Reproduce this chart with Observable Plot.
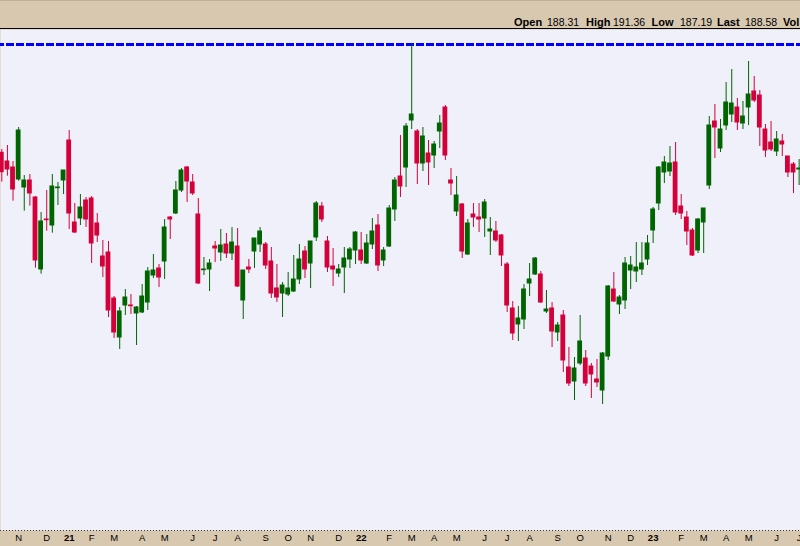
<!DOCTYPE html>
<html><head><meta charset="utf-8">
<script src="https://cdn.jsdelivr.net/npm/d3@7"></script>
<script src="https://cdn.jsdelivr.net/npm/@observablehq/plot@0.6"></script>
<style>
html,body{margin:0;padding:0;background:#d8c8b0;width:800px;height:546px;overflow:hidden;font-family:"Liberation Sans",Arial,sans-serif}
#hdr{display:block}
#chart svg{display:block}
</style></head><body>
<svg id="hdr" width="800" height="29"></svg>
<div id="chart"></div>
<script>
// Weekly bars: first bar week and end (exclusive)
const firstWeek = "2020-10-12";
const lastWeekEnd = "2023-07-04";

const open = [191.54,189.8,188.6,186.2,184.6,186,182.6,168.2,178.2,177,
184.46,186,194,177.6,178.4,182,182.4,177.4,170.8,171.6,
162.4,154.6,161,161,159.4,159.6,161.6,167,168.4,169.8,
178.6,179.4,184,188.6,185.6,179.2,168.06,168.2,172.8,171.6,
173.2,171.4,172.8,162,168.6,171.8,173.2,173.2,169.8,164.4,
163.4,163.2,163.8,166.2,171.8,169.4,174.6,180.8,173.8,168.8,
167.4,168.6,170.2,172,172,169.4,173.2,177,170,172.8,
180.2,186.8,188.6,198,195.8,189.4,191.4,191,195.8,200.6,
186,179.8,181.2,171.2,179.2,178.6,178.4,175.8,175.8,175,
169.2,160.4,157.2,158.2,165.4,167.2,167.2,159.8,160.4,155.6,
159,148.6,145.8,149.4,150.4,148.8,146.2,144,150.8,164.2,
161.2,162,168,167.8,168.2,170.2,176,181.4,187.6,187.8,
189.6,180.8,178.6,176,172,177.6,185,197.8,192.4,197,
199.2,200.6,197.4,200.6,203.8,203,196.2,193.6,191.8,193.8,
190.8,189.2,188.2];
const high = [192.2,193,189.8,196.6,187,187.2,182.8,179.6,184,187.2,
185.6,188,196,181.4,183.2,182.6,182.8,179.4,174,173.8,
162.8,160.6,164.2,163.2,160.8,165.2,168.6,171.2,169.2,178.2,
178.8,185.8,188.4,188.8,187.2,182.4,170.6,170.2,173.8,176.2,
175.4,176.6,176.4,168,170.2,174.4,176.6,173.6,172.6,169.2,
165.6,167.6,171,173.2,172.8,173.8,181.8,181.6,174.8,172.4,
169.2,172.6,172.6,175.8,175.6,175.2,178.4,179.2,172.6,181,
186.6,195,197.4,213.2,196.2,196.6,194,193.8,199,201,
188.4,186.8,181.4,178.2,181.4,181.4,182.2,178.6,177.8,175.2,
169.6,161.8,160.8,165.2,169.4,170.6,167.8,164,161.6,157.6,
160,152.6,150.6,159,152,149.4,150.2,151.6,165,167.6,
163,170.6,170.8,173.6,173.6,175,180.6,188.8,190.8,192.8,
193.6,183.2,179.8,176.4,178.4,180.4,198.8,201.2,198.2,205.6,
208.2,202.4,201.8,209.8,206.8,204,197.2,197.8,195.8,195.2,
190.8,189.6,190.2];
const low = [185.66,186.86,181.86,185.86,179.86,180.86,168.46,167.26,175.86,175.46,
181,183.2,176.2,175.4,177,176.6,169.4,173.6,166.6,158.6,
154.4,152.2,159,159.2,153,159.4,160,166.4,164.6,166.2,
174.2,179.2,183.6,181.6,183,165.2,167,163.8,169.6,169.8,
170.4,170,164.6,158.2,167.4,168.4,171.6,168.2,162.4,161.6,
158.6,162.8,163.6,165.2,166.4,164.4,173.8,177.6,167.6,164.8,
166.6,163.4,168.4,169.2,169.2,169.2,172.2,167.8,168.8,172.6,
177.8,182.6,184.6,196.2,185.2,187.8,185,188.4,192.4,190,
183,178.8,170.4,171,176.6,175.6,174.6,171,173.6,168.8,
159.6,154,153.8,156.2,162.8,167,161.4,159.4,152.6,153.8,
147.6,144.8,142,149,144.8,142.4,144.6,141.2,150,161.6,
159.2,160.2,164.2,165.6,167,169,173.4,180,185.4,186.8,
179,178.2,173,170.8,171.4,171.4,184.2,190.4,191.6,196,
197.6,196,196.2,197,201.6,192.8,190.6,191.8,190.8,190.8,
186.6,183.4,185];
const close = [187.66,188.2,184.2,196,186,183.4,170,177.8,178.06,184.8,
184.6,188,179.4,175.6,180.6,178.2,173.4,175,168.8,160,
155.6,159.8,162.6,160.86,160.6,162.8,167.8,168,166.6,176.6,
178.2,184,188,185.8,183.4,165.4,168.2,169.4,172.4,173,
171.4,173.6,164.8,168,168.2,174.4,175.8,169,163.4,162.6,
165,164.4,166.2,170.2,168.2,173.8,181.4,178.2,168.6,168.2,
168.2,170.4,172.2,175.6,170,173.4,175.8,169,172,180.4,
186,184.8,196.8,199.2,189.4,194.8,189.6,193.2,197.4,191,
185.4,183,171.8,177.4,178.6,178.2,181.6,176.2,174,171,
161,155.4,158.4,164.2,166.2,170.4,161.6,160.2,155.8,157,
150,145.4,148.4,153.8,145.4,147.2,145.6,151.4,164.8,161.8,
162.6,169.4,169,168.6,169.4,173.4,180.2,188.6,189.6,189.4,
179.6,179.4,175.8,171,178.2,180.4,197,196.6,196.2,201.6,
201.4,197.6,198.8,203.2,202,196.6,192,192.2,194.2,193.2,
187.6,187.6,188.4];

const tickLabels = ["N","D","21","F","M","A","M","J","J","A","S","O","N","D","22","F","M","A","M","J","J","A","S","O","N","D","23","F","M","A","M","J","J"];

const headerLabels = ["Open","High","Low","Last","Vol"];
const headerValues = ["188.31","191.36","187.19","188.58"];

const dates = d3.utcMonday.range(new Date(firstWeek), new Date(lastWeekEnd));
const bars = dates.map((date, i) => ({
  date, open: open[i], high: high[i], low: low[i], close: close[i],
  x1: d3.utcHour.offset(date, -72), x2: d3.utcHour.offset(date, 72),
  up: close[i] >= open[i]
}));

const firsts = dates.filter((d, i) => i > 0 && d.getUTCMonth() !== dates[i - 1].getUTCMonth());
const ticks = firsts.map((date, i) => ({date, label: tickLabels[i], year: /\d/.test(tickLabels[i])}));

const RED = "#d4003a", GREEN = "#006400";
const colorOf = d => d.up ? GREEN : RED;
const font = "'Liberation Sans', Arial, sans-serif";

// header
const hdr = d3.select("#hdr");
hdr.append("rect").attr("width", 800).attr("height", 28).attr("fill", "#d8c8b0");
hdr.append("line").attr("x1", 0).attr("x2", 800).attr("y1", 0.5).attr("y2", 0.5).attr("stroke", "#c4ae94");
hdr.append("line").attr("x1", 0).attr("x2", 800).attr("y1", 28.5).attr("y2", 28.5).attr("stroke", "#000");
const lx = [514, 586, 651.5, 717, 783], vx = [547, 613, 680, 745];
headerLabels.forEach((t, i) => hdr.append("text").attr("x", lx[i]).attr("y", 26)
  .attr("font-family", font).attr("font-size", 11).attr("font-weight", "bold").attr("fill", "#000").text(t));
headerValues.forEach((t, i) => hdr.append("text").attr("x", vx[i]).attr("y", 26)
  .attr("font-family", font).attr("font-size", 10.5).attr("fill", "#000").text(t));

const maxHigh = d3.max(high);

const chart = Plot.plot({
  width: 800,
  height: 517,
  marginTop: 0, marginLeft: 0, marginRight: 0, marginBottom: 16,
  style: {background: "#d8c8b0", fontFamily: font, overflow: "visible"},
  x: {type: "utc", domain: [new Date("2020-10-10T09:06Z"), new Date("2023-07-04T17:03Z")], axis: null},
  y: {domain: [116, 216.2], axis: null},
  marks: [
    Plot.frame({fill: "#f0f0fa", stroke: null}),
    Plot.ruleY([maxHigh], {stroke: "#0000ff", strokeWidth: 3, strokeDasharray: "8,2", strokeDashoffset: 4}),
    Plot.ruleX(bars, {x: "date", y1: "low", y2: "high", stroke: colorOf, strokeWidth: 1}),
    Plot.rect(bars, {x1: "x1", x2: "x2", y1: "open", y2: "close", fill: colorOf, insetTop: -0.5, insetBottom: -0.5}),
    Plot.ruleY([116], {stroke: "#333", strokeWidth: 1, strokeDasharray: "1,2"}),
    Plot.text(ticks.filter(d => !d.year), {x: "date", text: "label", frameAnchor: "bottom", lineAnchor: "bottom", dy: 10.5, fontSize: 9.5, fill: "#000"}),
    Plot.text(ticks.filter(d => d.year), {x: "date", text: "label", frameAnchor: "bottom", lineAnchor: "bottom", dy: 10.5, fontSize: 9.5, fontWeight: "bold", fill: "#000"})
  ]
});
document.getElementById("chart").append(chart);
</script>
</body></html>
